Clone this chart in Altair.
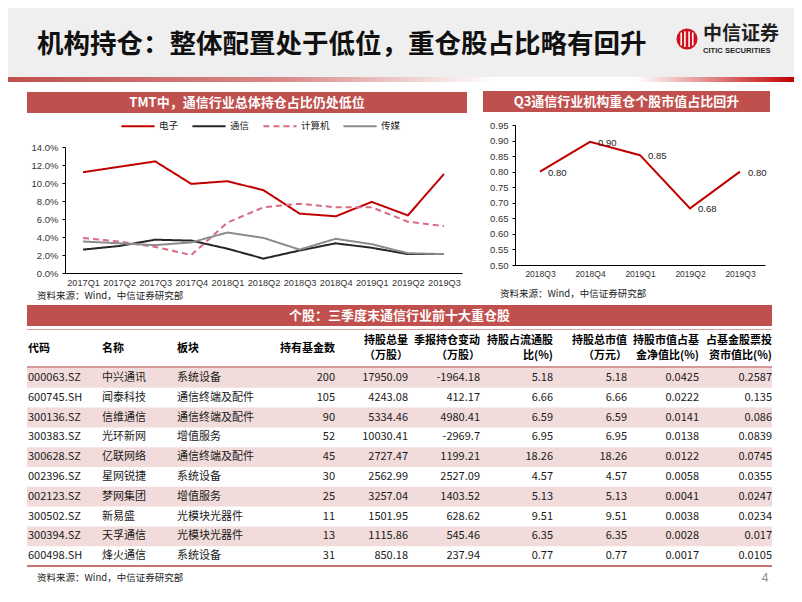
import altair as alt
import pandas as pd

# ---------------- data ----------------
slide_title = "机构持仓：整体配置处于低位，重仓股占比略有回升"
left_title = "TMT中，通信行业总体持仓占比仍处低位"
right_title = "Q3通信行业机构重仓个股市值占比回升"
table_title = "个股：三季度末通信行业前十大重仓股"
source_note = "资料来源：Wind，中信证券研究部"
brand_cn = "中信证券"
brand_en = "CITIC SECURITIES"
page_no = "4"

quarters = ["2017Q1", "2017Q2", "2017Q3", "2017Q4", "2018Q1", "2018Q2",
            "2018Q3", "2018Q4", "2019Q1", "2019Q2", "2019Q3"]
series_names = ["电子", "通信", "计算机", "传媒"]
electronics = [11.2, 11.8, 12.4, 9.9, 10.2, 9.2, 6.6, 6.3, 7.9, 6.4, 11.0]
telecom = [2.6, 3.0, 3.7, 3.6, 2.7, 1.6, 2.5, 3.3, 2.8, 2.1, 2.1]
computer = [3.9, 3.5, 2.9, 2.0, 5.6, 7.3, 7.7, 7.3, 7.3, 5.7, 5.2]
media = [3.5, 3.3, 3.1, 3.4, 4.5, 3.9, 2.6, 3.8, 3.2, 2.2, 2.1]
left_ticks = [0, 2, 4, 6, 8, 10, 12, 14]

right_quarters = ["2018Q3", "2018Q4", "2019Q1", "2019Q2", "2019Q3"]
right_share = [0.80, 0.896, 0.853, 0.682, 0.80]
right_ticks = [0.50, 0.55, 0.60, 0.65, 0.70, 0.75, 0.80, 0.85, 0.90, 0.95]

table_headers = ["代码", "名称", "板块", "持有基金数", "持股总量\n（万股）",
                 "季报持仓变动\n（万股）", "持股占流通股\n比(%)", "持股总市值\n（万元）",
                 "持股市值占基\n金净值比(%)", "占基金股票投\n资市值比(%)"]
codes = ["000063.SZ", "600745.SH", "300136.SZ", "300383.SZ", "300628.SZ",
         "002396.SZ", "002123.SZ", "300502.SZ", "300394.SZ", "600498.SH"]
names = ["中兴通讯", "闻泰科技", "信维通信", "光环新网", "亿联网络",
         "星网锐捷", "梦网集团", "新易盛", "天孚通信", "烽火通信"]
sectors = ["系统设备", "通信终端及配件", "通信终端及配件", "增值服务", "通信终端及配件",
           "系统设备", "增值服务", "光模块光器件", "光模块光器件", "系统设备"]
fund_counts = [200, 105, 90, 52, 45, 30, 25, 11, 13, 31]
holdings = [17950.09, 4243.08, 5334.46, 10030.41, 2727.47, 2562.99, 3257.04, 1501.95, 1115.86, 850.18]
changes = [-1964.18, 412.17, 4980.41, -2969.7, 1199.21, 2527.09, 1403.52, 628.62, 545.46, 237.94]
float_pct = [5.18, 6.66, 6.59, 6.95, 18.26, 4.57, 5.13, 9.51, 6.35, 0.77]
market_value = [5.18, 6.66, 6.59, 6.95, 18.26, 4.57, 5.13, 9.51, 6.35, 0.77]
nav_pct = [0.0425, 0.0222, 0.0141, 0.0138, 0.0122, 0.0058, 0.0041, 0.0038, 0.0028, 0.0017]
stock_pct = [0.2587, 0.135, 0.086, 0.0839, 0.0745, 0.0355, 0.0247, 0.0234, 0.017, 0.0105]

# ---------------- layout / style ----------------
W, H = 786, 586
CJK = "Noto Sans CJK SC"
LAT = "Liberation Sans"
BAR_RED = "#c0504d"
LINE_RED = "#c00000"
one = pd.DataFrame({"k": [0]})


def box(x0, x1, y0, y1, color):
    return alt.Chart(one).mark_rect(color=color).encode(
        x=alt.value(x0), x2=alt.value(x1), y=alt.value(y0), y2=alt.value(y1))


def hline(x0, x1, y, color, w):
    return alt.Chart(one).mark_rule(color=color, strokeWidth=w).encode(
        x=alt.value(x0), x2=alt.value(x1), y=alt.value(y))


def label(text, x, y, size, color="#111", weight="normal", align="left", font=CJK):
    return alt.Chart(pd.DataFrame({"t": [text]})).mark_text(
        align=align, baseline="middle", fontSize=size, fontWeight=weight,
        color=color, font=font).encode(text="t:N", x=alt.value(x), y=alt.value(y))


layers = []

# title band
layers.append(box(0, W, 0, 69, "#efefef"))
layers.append(label(slide_title, 29, 37, 26.5, "#111111", "bold"))
layers.append(alt.Chart(one).mark_point(shape="circle", filled=True, size=441, color="#d0101b",
                                         opacity=1).encode(x=alt.value(679), y=alt.value(31)))
layers.append(alt.Chart(one).mark_point(
    shape="M-0.55,-0.62L-0.55,0.62M-0.2,-0.75L-0.2,0.75M0.2,-0.75L0.2,0.75M0.55,-0.62L0.55,0.62",
    filled=False, size=441, stroke="white", strokeWidth=1.6, opacity=1).encode(
    x=alt.value(679), y=alt.value(31)))
layers.append(label(brand_cn, 695, 26, 19, "#1f1f1f", "bold"))
layers.append(label(brand_en, 695, 43, 7.6, "#1f1f1f", "bold", font=LAT))
grad = alt.Gradient(gradient="linear", x1=0, x2=1, y1=0, y2=0, stops=[
    alt.GradientStop(color="#c0504d", offset=0),
    alt.GradientStop(color="#d88a89", offset=0.35),
    alt.GradientStop(color="#ffffff", offset=0.62),
    alt.GradientStop(color="#ffffff", offset=0.8),
    alt.GradientStop(color="#c00000", offset=1)])
layers.append(alt.Chart(one).mark_rect(color=grad).encode(
    x=alt.value(0), x2=alt.value(W), y=alt.value(69), y2=alt.value(74)))

# section headers
layers.append(box(19, 459, 84, 105, BAR_RED))
layers.append(label(left_title, 239, 94.5, 13, "white", "bold", "center"))
layers.append(box(475, 762, 83, 104, BAR_RED))
layers.append(label(right_title, 618.5, 93.5, 13, "white", "bold", "center"))

# left line chart
left_df = pd.DataFrame({
    "quarter": quarters * 4,
    "series": sum([[s] * len(quarters) for s in series_names], []),
    "value": electronics + telecom + computer + media,
})
leg = alt.Legend(title=None, orient="none", legendX=112, legendY=100, direction="horizontal",
                 symbolType="stroke", symbolSize=1100, symbolStrokeWidth=2,
                 labelFont=CJK, labelFontSize=9.5, labelColor="#222", labelOffset=3,
                 columnPadding=9)
left_chart = alt.Chart(left_df).mark_line(strokeWidth=2).encode(
    x=alt.X("quarter:N", sort=quarters, title=None,
            scale=alt.Scale(type="point", domain=quarters, range=[57, 454], padding=0.5),
            axis=alt.Axis(orient="bottom", offset=265 - H, labelAngle=0, ticks=False,
                          labelFontSize=9.2, labelPadding=5, labelOverlap=False,
                          domainColor="#000", labelColor="#333", labelFont=LAT, grid=False)),
    y=alt.Y("value:Q", title=None,
            scale=alt.Scale(domain=[0, 14], range=[265, 139], nice=False),
            axis=alt.Axis(orient="left", offset=-57, values=left_ticks,
                          labelExpr="format(datum.value, '.1f') + '%'",
                          tickSize=3, tickColor="#000", domainColor="#000",
                          labelFontSize=9.5, labelPadding=4, labelColor="#333",
                          labelFont=LAT, grid=False)),
    color=alt.Color("series:N", sort=series_names, legend=leg,
                    scale=alt.Scale(domain=series_names,
                                    range=[LINE_RED, "#262626", "#d96a82", "#8c8c8c"])),
    strokeDash=alt.StrokeDash("series:N", sort=series_names, legend=leg,
                              scale=alt.Scale(domain=series_names,
                                              range=[[1, 0], [1, 0], [6, 4], [1, 0]])),
)
layers.append(left_chart)
layers.append(label(source_note, 29, 288, 9.5, "#222"))

# right line chart
right_df = pd.DataFrame({"rq": right_quarters, "share": right_share})
rbase = alt.Chart(right_df).encode(
    x=alt.X("rq:N", sort=right_quarters, title=None,
            scale=alt.Scale(type="point", domain=right_quarters, range=[507, 757], padding=0.5),
            axis=alt.Axis(orient="bottom", offset=257 - H, labelAngle=0, ticks=False,
                          labelFontSize=8.5, labelPadding=4, labelOverlap=False,
                          domainColor="#000", labelColor="#333", labelFont=LAT, grid=False)),
    y=alt.Y("share:Q", title=None,
            scale=alt.Scale(domain=[0.5, 0.95], range=[257, 117], nice=False, zero=False),
            axis=alt.Axis(orient="left", offset=-507, values=right_ticks, format=".2f",
                          tickSize=3, tickColor="#000", domainColor="#000",
                          labelFontSize=9.5, labelPadding=4, labelColor="#333",
                          labelFont=LAT, grid=False)),
)
right_chart = alt.layer(
    rbase.mark_line(color=LINE_RED, strokeWidth=2),
    rbase.mark_text(align="left", baseline="middle", dx=8, dy=1, fontSize=9.5,
                    font=LAT, color="#222").encode(text=alt.Text("share:Q", format=".2f")),
)
layers.append(right_chart)
layers.append(label(source_note, 492, 286, 9.5, "#222"))

# table
layers.append(box(19, 764, 297, 318, BAR_RED))
layers.append(label(table_title, 391.5, 307.5, 13, "white", "bold", "center"))
layers.append(hline(19, 764, 321.5, "#dd9c9b", 1))

anchors = [(20, "left"), (94, "left"), (169, "left"), (327, "right"), (400, "right"),
           (472, "right"), (545, "right"), (619, "right"), (691, "right"), (764, "right")]
for head, (ax, al) in zip(table_headers, anchors):
    parts = head.split("\n")
    if len(parts) == 1:
        layers.append(label(parts[0], ax, 341, 11, "#000", "bold", al))
    else:
        layers.append(label(parts[0], ax, 333, 11, "#000", "bold", al))
        layers.append(label(parts[1], ax, 348, 11, "#000", "bold", al))
layers.append(hline(19, 764, 359, "#c87474", 1.5))

fields = ["code", "name", "sector", "funds", "hold", "chg", "flt", "mv", "nav", "stk"]
table_df = pd.DataFrame({
    "code": codes, "name": names, "sector": sectors,
    "funds": [str(v) for v in fund_counts],
    "hold": [str(v) for v in holdings],
    "chg": [str(v) for v in changes],
    "flt": [str(v) for v in float_pct],
    "mv": [str(v) for v in market_value],
    "nav": [str(v) for v in nav_pct],
    "stk": [str(v) for v in stock_pct],
})
table_df["r0"] = list(range(len(codes)))
table_df["r1"] = table_df["r0"] + 1
table_df["rm"] = table_df["r0"] + 0.5
tscale = alt.Scale(domain=[0, 10], range=[360, 558], nice=False, zero=False)
tparts = [alt.Chart(table_df).transform_filter("datum.r0 % 2 == 0").mark_rect(color="#f2dcdb").encode(
    y=alt.Y("r0:Q", scale=tscale, axis=None), y2="r1:Q", x=alt.value(19), x2=alt.value(764))]
for f, (ax, al) in zip(fields, anchors):
    tparts.append(alt.Chart(table_df).mark_text(
        align=al, baseline="middle", fontSize=11, font=CJK, color="#1a1a1a").encode(
        y=alt.Y("rm:Q", scale=tscale, axis=None), x=alt.value(ax), text=f"{f}:N"))
layers.append(alt.layer(*tparts))
layers.append(hline(19, 764, 558, "#c87474", 2))
layers.append(label(source_note, 29, 570, 9.5, "#222"))
layers.append(label(page_no, 757, 570, 12, "#8a8a8a", "normal", "center", LAT))

chart = alt.layer(*layers).resolve_scale(
    x="independent", y="independent"
).properties(
    width=W, height=H, padding=0, autosize=alt.AutoSizeParams(type="none")
).configure_view(stroke=None)

chart.save("out.html", embed_options={"renderer": "svg", "actions": False})
